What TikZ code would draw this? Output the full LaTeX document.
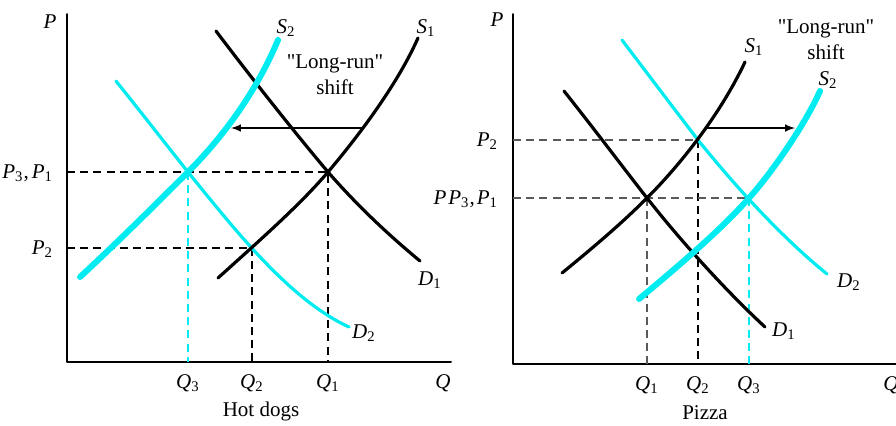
\documentclass[tikz,border=0pt]{standalone}
\usepackage{fontspec}
\setmainfont{Liberation Serif}
\definecolor{shiftcyan}{RGB}{0,236,240}
\definecolor{guidegray}{RGB}{90,90,90}
\newcommand{\pq}[2]{\textit{#1}\textsubscript{#2}}
\begin{document}
\begin{tikzpicture}[x=0.5pt,y=-0.5pt,line cap=round,line join=round,>=latex,
  font=\fontsize{10.5}{13}\selectfont,
  axis/.style={line width=1pt},
  oldcurve/.style={line width=1.6pt},
  newdemand/.style={line width=1.6pt,shiftcyan},
  newsupply/.style={line width=3pt,shiftcyan},
  guide/.style={line width=0.7pt,line cap=butt,dash pattern=on 4pt off 2.6pt},
  shiftarrow/.style={line width=0.7pt,->}]
  \useasboundingbox (0,0) rectangle (896,425);
  % hot dogs
  \coordinate (oL) at (67,362);
  \coordinate (eL1) at (328,172);
  \coordinate (eL2) at (252,248);
  \coordinate (eL3) at (188,172);
  \draw[axis] (67,14) -- (oL) -- (451,362);
  \draw[guide] (eL1 -| oL) -- (eL1) -- (eL1 |- oL);
  \draw[guide] (eL2 -| oL) -- (eL2) -- (eL2 |- oL);
  \draw[guide,shiftcyan] (eL3) -- (eL3 |- oL);
  \draw[newdemand] (116,81) .. controls (140,111) and (165,143) .. (eL3)
    .. controls (235,230) and (290,300) .. (349,327);
  \draw[oldcurve] (216,31) .. controls (250,76) and (295,133) .. (eL1)
    .. controls (355,203) and (385,232) .. (420,261);
  \draw[oldcurve] (218,278) .. controls (260,240) and (300,205) .. (eL1)
    .. controls (350,146) and (395,90) .. (418,38);
  \draw[newsupply] (80,277) .. controls (120,240) and (160,200) .. (eL3)
    .. controls (220,140) and (255,95) .. (278,40);
  \coordinate (aL1) at (362,128);
  \coordinate (aL2) at (231,128);
  \draw[shiftarrow] (aL1) -- (aL2);
  \node (pL) at (50,22) {\textit{P}};
  \node[anchor=east] (p31L) at (60,173) {\pq{P}{3},\kern1.5pt\pq{P}{1}};
  \node[anchor=east] (p2L) at (60,249) {\pq{P}{2}};
  \foreach \x/\i in {188/3,252/2,328/1}
    \node (q\i L) at (\x,383) {\pq{Q}{\i}};
  \node (qL) at (443,383) {\textit{Q}};
  \node (hotdogs) at (261,411) {Hot dogs};
  \node (s2L) at (286,28) {\pq{S}{2}};
  \node (s1L) at (426,28) {\pq{S}{1}};
  \node (d1L) at (430,280) {\pq{D}{1}};
  \node (d2L) at (364,333) {\pq{D}{2}};
  \node[align=center] (lrL) at (335,75) {\textquotedbl Long-run\textquotedbl\\shift};
  % pizza
  \coordinate (oR) at (513,364);
  \coordinate (eR1) at (647,198);
  \coordinate (eR2) at (698,140);
  \coordinate (eR3) at (749,198);
  \draw[axis] (513,14) -- (oR) -- (896,364);
  \draw[guide,guidegray] (eR2 -| oR) -- (eR2);
  \draw[guide] (eR2) -- (eR2 |- oR);
  \draw[guide,guidegray] (eR3 -| oR) -- (eR3);
  \draw[guide,guidegray] (eR1) -- (eR1 |- oR);
  \draw[guide,shiftcyan] (eR3) -- (eR3 |- oR);
  \draw[newdemand] (622,40) .. controls (650,77) and (675,110) .. (eR2)
    .. controls (740,192) and (785,240) .. (827,274);
  \draw[oldcurve] (564,91) .. controls (595,130) and (625,170) .. (eR1)
    .. controls (680,240) and (725,290) .. (765,327);
  \draw[oldcurve] (562,273) .. controls (600,242) and (625,220) .. (eR1)
    .. controls (680,165) and (720,115) .. (745,62);
  \draw[newsupply] (639,299) .. controls (676,268) and (720,231) .. (eR3)
    .. controls (770,175) and (805,125) .. (820,91);
  \coordinate (aR1) at (707,128);
  \coordinate (aR2) at (795,128);
  \draw[shiftarrow] (aR1) -- (aR2);
  \node (pR) at (497,20) {\textit{P}};
  \node[anchor=east] (p2R) at (505,141) {\pq{P}{2}};
  \node[anchor=east] (p31R) at (505,199) {\textit{P}\kern1pt\pq{P}{3},\kern1pt\pq{P}{1}};
  \foreach \x/\i in {647/1,698/2,749/3}
    \node (q\i R) at (\x,385) {\pq{Q}{\i}};
  \node (qR) at (891,385) {\textit{Q}};
  \node (pizza) at (705,413) {Pizza};
  \node (s1R) at (754,47) {\pq{S}{1}};
  \node (s2R) at (828,80) {\pq{S}{2}};
  \node (d2R) at (849,282) {\pq{D}{2}};
  \node (d1R) at (784,331) {\pq{D}{1}};
  \node[align=center] (lrR) at (826,40) {\textquotedbl Long-run\textquotedbl\\shift};
\end{tikzpicture}
\end{document}
